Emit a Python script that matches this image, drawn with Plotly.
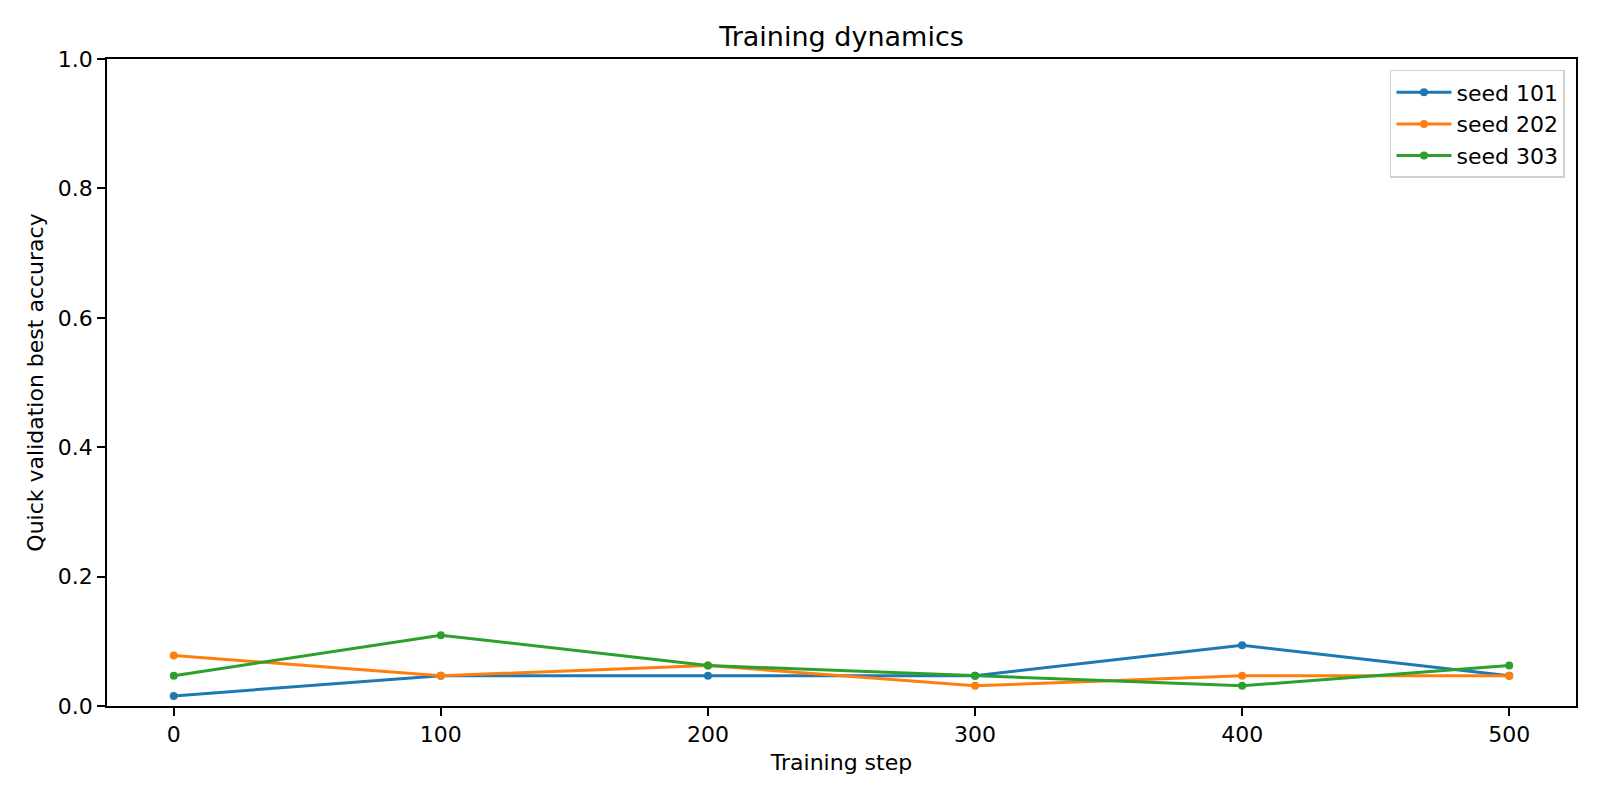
import plotly.graph_objects as go

# training steps and quick validation best accuracy per seed
steps = [0, 100, 200, 300, 400, 500]
seed_101 = [0.015625, 0.046875, 0.046875, 0.046875, 0.09375, 0.046875]
seed_202 = [0.078125, 0.046875, 0.0625, 0.03125, 0.046875, 0.046875]
seed_303 = [0.046875, 0.109375, 0.0625, 0.046875, 0.03125, 0.0625]
y_ticks = [0, 0.2, 0.4, 0.6, 0.8, 1.0]

series = [("seed 101", seed_101, "#1f77b4"),
          ("seed 202", seed_202, "#ff7f0e"),
          ("seed 303", seed_303, "#2ca02c")]

fig = go.Figure()
for name, vals, col in series:
    fig.add_trace(go.Scatter(x=steps, y=vals, name=name, mode="lines+markers",
                             line=dict(color=col, width=3),
                             marker=dict(color=col, size=8)))

axis_style = dict(showgrid=False, zeroline=False, showline=True, linecolor="black",
                  linewidth=1.8, mirror=True, ticks="outside", ticklen=8, tickwidth=1.8,
                  tickcolor="black", tickfont=dict(size=22, color="black"))

# page body adds 8px margin, so the figure is sized to fill 1600x800 exactly
fig.update_layout(
    width=1584, height=784,
    plot_bgcolor="white", paper_bgcolor="white",
    font=dict(family="DejaVu Sans", color="black"),
    margin=dict(l=99, r=16, t=51, b=86),
    title=dict(text="Training dynamics", x=0.5, xanchor="center", xref="paper",
               y=0.964, yanchor="middle", font=dict(size=27)),
    xaxis=dict(range=[-25, 525], tickvals=steps,
               title=dict(text="Training step", font=dict(size=22), standoff=8),
               **axis_style),
    yaxis=dict(range=[0, 1], tickvals=y_ticks, tickformat=".1f",
               title=dict(text="Quick validation best accuracy", font=dict(size=22), standoff=8),
               **axis_style),
    legend=dict(x=0.9925, y=0.983, xanchor="right", yanchor="top",
                bordercolor="#d0d0d0", borderwidth=1.5, bgcolor="rgba(255,255,255,0.8)",
                font=dict(size=22), itemwidth=55),
    showlegend=True,
)

fig.write_html("out.html")
